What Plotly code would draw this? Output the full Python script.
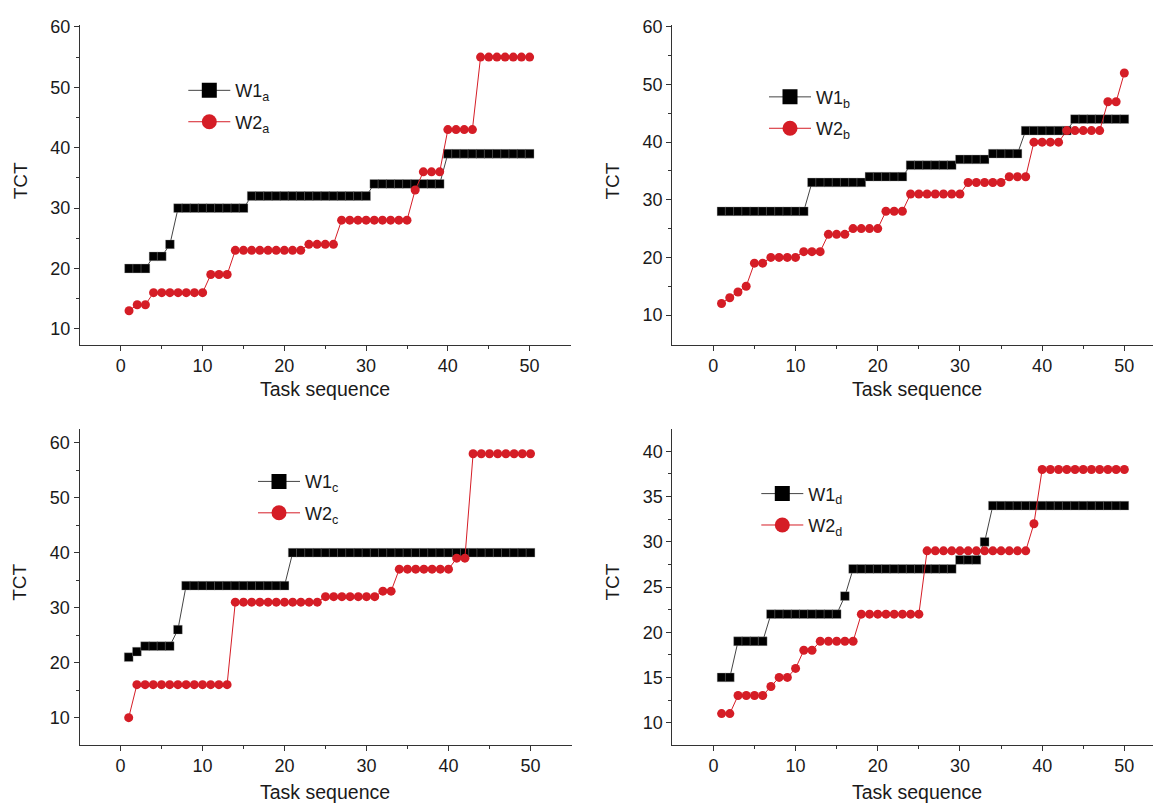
import plotly.graph_objects as go

# ---------------- data ----------------
task_seq = [1, 2, 3, 4, 5, 6, 7, 8, 9, 10, 11, 12, 13, 14, 15, 16, 17, 18, 19, 20,
            21, 22, 23, 24, 25, 26, 27, 28, 29, 30, 31, 32, 33, 34, 35, 36, 37, 38, 39, 40,
            41, 42, 43, 44, 45, 46, 47, 48, 49, 50]

w1_a = [20, 20, 20, 22, 22, 24, 30, 30, 30, 30,
        30, 30, 30, 30, 30, 32, 32, 32, 32, 32,
        32, 32, 32, 32, 32, 32, 32, 32, 32, 32,
        34, 34, 34, 34, 34, 34, 34, 34, 34, 39,
        39, 39, 39, 39, 39, 39, 39, 39, 39, 39]
w2_a = [13, 14, 14, 16, 16, 16, 16, 16, 16, 16,
        19, 19, 19, 23, 23, 23, 23, 23, 23, 23,
        23, 23, 24, 24, 24, 24, 28, 28, 28, 28,
        28, 28, 28, 28, 28, 33, 36, 36, 36, 43,
        43, 43, 43, 55, 55, 55, 55, 55, 55, 55]

w1_b = [28, 28, 28, 28, 28, 28, 28, 28, 28, 28,
        28, 33, 33, 33, 33, 33, 33, 33, 34, 34,
        34, 34, 34, 36, 36, 36, 36, 36, 36, 37,
        37, 37, 37, 38, 38, 38, 38, 42, 42, 42,
        42, 42, 42, 44, 44, 44, 44, 44, 44, 44]
w2_b = [12, 13, 14, 15, 19, 19, 20, 20, 20, 20,
        21, 21, 21, 24, 24, 24, 25, 25, 25, 25,
        28, 28, 28, 31, 31, 31, 31, 31, 31, 31,
        33, 33, 33, 33, 33, 34, 34, 34, 40, 40,
        40, 40, 42, 42, 42, 42, 42, 47, 47, 52]

w1_c = [21, 22, 23, 23, 23, 23, 26, 34, 34, 34,
        34, 34, 34, 34, 34, 34, 34, 34, 34, 34,
        40, 40, 40, 40, 40, 40, 40, 40, 40, 40,
        40, 40, 40, 40, 40, 40, 40, 40, 40, 40,
        40, 40, 40, 40, 40, 40, 40, 40, 40, 40]
w2_c = [10, 16, 16, 16, 16, 16, 16, 16, 16, 16,
        16, 16, 16, 31, 31, 31, 31, 31, 31, 31,
        31, 31, 31, 31, 32, 32, 32, 32, 32, 32,
        32, 33, 33, 37, 37, 37, 37, 37, 37, 37,
        39, 39, 58, 58, 58, 58, 58, 58, 58, 58]

w1_d = [15, 15, 19, 19, 19, 19, 22, 22, 22, 22,
        22, 22, 22, 22, 22, 24, 27, 27, 27, 27,
        27, 27, 27, 27, 27, 27, 27, 27, 27, 28,
        28, 28, 30, 34, 34, 34, 34, 34, 34, 34,
        34, 34, 34, 34, 34, 34, 34, 34, 34, 34]
w2_d = [11, 11, 13, 13, 13, 13, 14, 15, 15, 16,
        18, 18, 19, 19, 19, 19, 19, 22, 22, 22,
        22, 22, 22, 22, 22, 29, 29, 29, 29, 29,
        29, 29, 29, 29, 29, 29, 29, 29, 32, 38,
        38, 38, 38, 38, 38, 38, 38, 38, 38, 38]

panel_keys = ["a", "b", "c", "d"]
series_w1 = [w1_a, w1_b, w1_c, w1_d]
series_w2 = [w2_a, w2_b, w2_c, w2_d]
x_tickvals = [0, 10, 20, 30, 40, 50]
y_tickvals = [[10, 20, 30, 40, 50, 60], [10, 20, 30, 40, 50, 60],
              [10, 20, 30, 40, 50, 60], [10, 15, 20, 25, 30, 35, 40]]

# ---------------- styling ----------------
W, H = 1161, 806
OFF = 8  # page body margin in the browser
BLACK = "#000000"
RED = "#d51d26"
FONT = "Liberation Sans, Arial, sans-serif"
TXT = "#1a1a1a"
AX = "#333333"


def px_x(X):
    return (X - OFF) / W


def px_y(Y):
    return 1 - (Y - OFF) / H


# plot-area boxes in screen pixels (left, right, top, bottom)
boxes = [(80, 570.5, 17, 340), (672.2, 1161, 17, 340),
         (79.5, 571.5, 425, 744), (672.3, 1161, 425, 744)]
x_ranges = [[-5, 55], [-5, 54.46], [-5, 55], [-5, 54.46]]
y_ranges = [[7.38, 60.33], [4.85, 60.34], [5.08, 62.52], [7.56, 42.49]]
y_minor = [5, 5, 5, 2.5]
# legend symbol centre (screen px) of first entry
leg_pos = [(209.3, 86.7), (790, 93.3), (279, 481.7), (782.3, 494)]
tct_y = [175, 175, 580, 580]
xt_y = [385, 385, 792, 792]

fig = go.Figure()

for i, key in enumerate(panel_keys):
    xa = "x" if i == 0 else f"x{i+1}"
    ya = "y" if i == 0 else f"y{i+1}"
    lg = "legend" if i == 0 else f"legend{i+1}"
    fig.add_trace(go.Scatter(
        x=task_seq, y=series_w1[i], mode="lines+markers", xaxis=xa, yaxis=ya,
        line=dict(color="#444444", width=1),
        marker=dict(symbol="square", size=8.8, color=BLACK,
                    line=dict(color="rgba(170,170,170,0.7)", width=0.5)),
        showlegend=False))
    fig.add_trace(go.Scatter(
        x=task_seq, y=series_w2[i], mode="lines+markers", xaxis=xa, yaxis=ya,
        line=dict(color=RED, width=1),
        marker=dict(symbol="circle", size=9, color=RED, line=dict(width=0)),
        showlegend=False))
    # legend entries
    fig.add_trace(go.Scatter(
        x=[None], y=[None], mode="lines+markers", xaxis=xa, yaxis=ya,
        name=f"W1<sub>{key}</sub>", legend=lg, legendgroup=f"g1{key}",
        line=dict(color="#444444", width=1),
        marker=dict(symbol="square", size=15, color=BLACK)))
    fig.add_trace(go.Scatter(
        x=[None], y=[None], mode="lines+markers", xaxis=xa, yaxis=ya,
        name=f"W2<sub>{key}</sub>", legend=lg, legendgroup=f"g2{key}",
        line=dict(color=RED, width=1),
        marker=dict(symbol="circle", size=15, color=RED)))

layout = dict(width=W, height=H, margin=dict(l=0, r=0, t=0, b=0),
              paper_bgcolor="white", plot_bgcolor="white",
              font=dict(family=FONT, size=18, color=TXT))

annotations = []
for i, key in enumerate(panel_keys):
    l, r, t, b = boxes[i]
    sfx = "" if i == 0 else str(i + 1)
    common = dict(showline=True, linecolor=AX, linewidth=1, ticks="outside",
                  ticklen=5, tickwidth=1, tickcolor=AX, showgrid=False,
                  zeroline=False, mirror=False,
                  tickfont=dict(family=FONT, size=18, color=TXT))
    layout["xaxis" + sfx] = dict(
        common, domain=[px_x(l), min(px_x(r), 1.0)], range=x_ranges[i],
        tickvals=x_tickvals, anchor="y" + sfx,
        minor=dict(tickvals=[5, 15, 25, 35, 45], ticks="outside", ticklen=3,
                   tickcolor=AX, showgrid=False))
    yt = y_tickvals[i]
    step = y_minor[i]
    ymin = [v + step for v in yt[:-1]]
    layout["yaxis" + sfx] = dict(
        common, domain=[px_y(b), px_y(t)], range=y_ranges[i], tickvals=yt,
        anchor="x" + sfx,
        minor=dict(tickvals=ymin, ticks="outside", ticklen=3,
                   tickcolor=AX, showgrid=False))
    lx, ly = leg_pos[i]
    layout["legend" if i == 0 else f"legend{i+1}"] = dict(
        x=px_x(lx - 26), y=px_y(ly - 22), xanchor="left", yanchor="top",
        bgcolor="rgba(0,0,0,0)", borderwidth=0, itemwidth=42,
        traceorder="grouped", tracegroupgap=5,
        font=dict(family=FONT, size=18, color=TXT))
    # axis titles
    annotations.append(dict(text="TCT", xref="paper", yref="paper",
                            x=px_x(l - 60), y=px_y(tct_y[i]),
                            textangle=-90, showarrow=False,
                            font=dict(family=FONT, size=19, color=TXT),
                            xanchor="center", yanchor="middle"))
    annotations.append(dict(text="Task sequence", xref="paper", yref="paper",
                            x=px_x((l + min(r, l + 490)) / 2), y=px_y(xt_y[i]),
                            showarrow=False,
                            font=dict(family=FONT, size=19.5, color=TXT),
                            xanchor="center", yanchor="middle"))
layout["annotations"] = annotations
fig.update_layout(**layout)

fig.write_html("out.html")
